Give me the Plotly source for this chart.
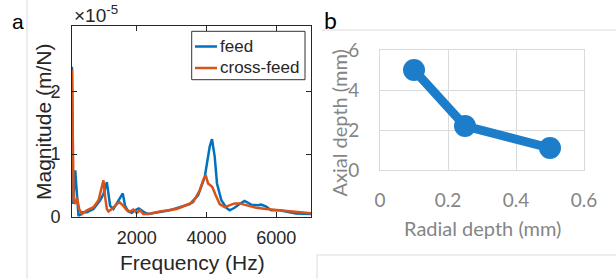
import plotly.graph_objects as go

W, H = 616, 279

# ---------------- Panel a data (magnitude in units of 1e-5 m/N) ----------------
feed_freq = [143, 171, 200, 237, 290, 331, 437, 571, 760, 951, 1046, 1143, 1237,
             1331, 1428, 1523, 1600, 1666, 1760, 1857, 1951, 2060, 2150, 2237, 2331,
             2571, 2951, 3237, 3523, 3760, 3951, 4094, 4160, 4237, 4303, 4428, 4571,
             4666, 4808, 4951, 5094, 5285, 5475, 5571, 5714, 5857, 6094, 6571, 7000]
feed_mag = [2.40, 0.20, 0.45, 0.74, 0.31, 0.00, 0.07, 0.07, 0.12, 0.26, 0.36, 0.55, 0.17,
            0.12, 0.21, 0.30, 0.37, 0.17, 0.08, 0.06, 0.10, 0.13, 0.09, 0.06, 0.04,
            0.06, 0.10, 0.15, 0.20, 0.34, 0.63, 1.12, 1.24, 0.96, 0.53, 0.26, 0.14,
            0.10, 0.14, 0.20, 0.25, 0.19, 0.18, 0.19, 0.16, 0.10, 0.10, 0.05, 0.04]

cross_freq = [143, 189, 237, 286, 350, 429, 571, 760, 903, 1000, 1046, 1094, 1143,
              1189, 1286, 1428, 1503, 1617, 1714, 1808, 1903, 2000, 2094, 2189, 2331,
              2666, 3143, 3237, 3617, 3808, 3923, 3980, 4046, 4114, 4171, 4266, 4380,
              4523, 4666, 4808, 4951, 5143, 5428, 5714, 6094, 6571, 7000]
cross_mag = [2.35, 0.26, 0.20, 0.31, 0.12, 0.04, 0.10, 0.15, 0.26, 0.47, 0.58, 0.31, 0.12,
             0.08, 0.12, 0.20, 0.23, 0.17, 0.10, 0.08, 0.11, 0.06, 0.10, 0.04, 0.04,
             0.08, 0.12, 0.14, 0.23, 0.42, 0.61, 0.66, 0.53, 0.50, 0.47, 0.34, 0.20,
             0.15, 0.18, 0.21, 0.21, 0.18, 0.14, 0.12, 0.10, 0.07, 0.05]

a_xticks = [2000, 4000, 6000]
a_yticks = [0, 1, 2]

# ---------------- Panel b data ----------------
radial_depth = [0.1, 0.25, 0.5]
axial_depth = [5.0, 2.2, 1.1]
b_xticks = [0, 0.2, 0.4, 0.6]
b_xticklabels = ["0", "0.2", "0.4", "0.6"]
b_yticks = [0, 2, 4, 6]

BLUE = "#0072BD"
ORANGE = "#D95319"
XLBLUE = "#1c7ecb"
AXC = "#262626"
GRAYTXT = "#858585"
GRID = "#dadada"
ARIAL = "Liberation Sans, Arial, sans-serif"
CAL = "Lato, Carlito, Calibri, sans-serif"


def px(x):
    return x / W


def py(y):
    return 1 - y / H


fig = go.Figure()
fig.add_trace(go.Scatter(x=feed_freq, y=feed_mag, mode="lines", name="feed",
                         line=dict(color=BLUE, width=2.5), xaxis="x", yaxis="y",
                         showlegend=False))
fig.add_trace(go.Scatter(x=cross_freq, y=cross_mag, mode="lines", name="cross-feed",
                         line=dict(color=ORANGE, width=2.5), xaxis="x", yaxis="y",
                         showlegend=False))
fig.add_trace(go.Scatter(x=radial_depth, y=axial_depth, mode="lines+markers",
                         line=dict(color=XLBLUE, width=9),
                         marker=dict(color=XLBLUE, size=22),
                         xaxis="x2", yaxis="y2", showlegend=False))

shapes = []
annotations = []

# decorative frame lines
shapes.append(dict(type="line", xref="paper", yref="paper", x0=px(27), x1=px(27),
                   y0=0, y1=1, line=dict(color="#dcdcdc", width=1)))
shapes.append(dict(type="line", xref="paper", yref="paper", x0=px(322), x1=1,
                   y0=py(30), y1=py(30), line=dict(color="#dcdcdc", width=1)))
shapes.append(dict(type="line", xref="paper", yref="paper", x0=px(317), x1=1,
                   y0=py(255), y1=py(255), line=dict(color="#dcdcdc", width=1)))
shapes.append(dict(type="line", xref="paper", yref="paper", x0=px(317), x1=px(317),
                   y0=0, y1=py(255), line=dict(color="#dcdcdc", width=1)))

# legend for panel a (manual)
shapes.append(dict(type="rect", xref="paper", yref="paper", x0=px(191.7), x1=px(305),
                   y0=py(79.7), y1=py(31.3), line=dict(color="#333333", width=1),
                   fillcolor="white"))
shapes.append(dict(type="line", xref="paper", yref="paper", x0=px(195), x1=px(217),
                   y0=py(46.5), y1=py(46.5), line=dict(color=BLUE, width=2.5)))
shapes.append(dict(type="line", xref="paper", yref="paper", x0=px(195), x1=px(217),
                   y0=py(68), y1=py(68), line=dict(color=ORANGE, width=2.5)))
annotations.append(dict(text="feed", xref="paper", yref="paper", x=px(217.5), y=py(46.5),
                        xanchor="left", yanchor="middle", showarrow=False,
                        font=dict(family=ARIAL, size=17, color=AXC)))
annotations.append(dict(text="cross-feed", xref="paper", yref="paper", x=px(217.5), y=py(68),
                        xanchor="left", yanchor="middle", showarrow=False,
                        font=dict(family=ARIAL, size=17, color=AXC)))

# panel labels
annotations.append(dict(text="a", xref="paper", yref="paper", x=px(17.5), y=py(21),
                        xanchor="center", yanchor="middle", showarrow=False,
                        font=dict(family=ARIAL, size=21, color="black")))
annotations.append(dict(text="b", xref="paper", yref="paper", x=px(330), y=py(20),
                        xanchor="center", yanchor="middle", showarrow=False,
                        font=dict(family=CAL, size=23, color="black")))

# panel a titles and exponent
annotations.append(dict(text="×10<sup>-5</sup>", xref="paper", yref="paper", x=px(72), y=py(14),
                        xanchor="left", yanchor="middle", showarrow=False,
                        font=dict(family=ARIAL, size=19, color=AXC)))
annotations.append(dict(text="Magnitude (m/N)", xref="paper", yref="paper", x=px(43), y=py(122),
                        xanchor="center", yanchor="middle", showarrow=False, textangle=-90,
                        font=dict(family=ARIAL, size=21, color=AXC)))
annotations.append(dict(text="Frequency (Hz)", xref="paper", yref="paper", x=px(192), y=py(262),
                        xanchor="center", yanchor="middle", showarrow=False,
                        font=dict(family=ARIAL, size=21, color=AXC)))

# panel b titles
annotations.append(dict(text="Axial depth (mm)", xref="paper", yref="paper", x=px(338.5), y=py(123),
                        xanchor="center", yanchor="middle", showarrow=False, textangle=-90,
                        font=dict(family=CAL, size=20, color=GRAYTXT)))
annotations.append(dict(text="Radial depth (mm)", xref="paper", yref="paper", x=px(482), y=py(228),
                        xanchor="center", yanchor="middle", showarrow=False,
                        font=dict(family=CAL, size=20, color=GRAYTXT)))

fig.update_layout(
    width=W, height=H,
    margin=dict(l=0, r=0, t=0, b=0, autoexpand=False),
    paper_bgcolor="white", plot_bgcolor="white",
    shapes=shapes, annotations=annotations,
    xaxis=dict(domain=[px(72), px(311)], range=[143, 7000], tickvals=a_xticks,
               ticktext=[str(v) for v in a_xticks], automargin=False,
               showline=True, mirror="ticks", linecolor=AXC, linewidth=1,
               ticks="inside", ticklen=5, tickcolor=AXC, showgrid=False, zeroline=False,
               tickfont=dict(family=ARIAL, size=18, color=AXC), ticklabelstandoff=5),
    yaxis=dict(domain=[py(216.5), py(26.3)], range=[0, 3.05], tickvals=a_yticks,
               automargin=False,
               showline=True, mirror="ticks", linecolor=AXC, linewidth=1,
               ticks="inside", ticklen=5, tickcolor=AXC, showgrid=False, zeroline=False,
               tickfont=dict(family=ARIAL, size=18, color=AXC), ticklabelstandoff=7),
    xaxis2=dict(domain=[px(380), px(584)], range=[0, 0.6], tickvals=b_xticks,
                ticktext=b_xticklabels, anchor="y2", automargin=False,
                showline=True, mirror=True, linecolor=GRID, linewidth=1,
                showgrid=True, gridcolor=GRID, gridwidth=1, zeroline=False, ticks="",
                tickfont=dict(family=CAL, size=19, color=GRAYTXT), ticklabelstandoff=13),
    yaxis2=dict(domain=[py(170), py(50)], range=[0, 6], tickvals=b_yticks, anchor="x2",
                automargin=False,
                showline=True, mirror=True, linecolor=GRID, linewidth=1,
                showgrid=True, gridcolor=GRID, gridwidth=1, zeroline=False, ticks="",
                tickfont=dict(family=CAL, size=19, color=GRAYTXT), ticklabelstandoff=16),
)

fig.write_html("out.html", config={"displayModeBar": False},
               post_script="document.body.style.margin='0px';")
